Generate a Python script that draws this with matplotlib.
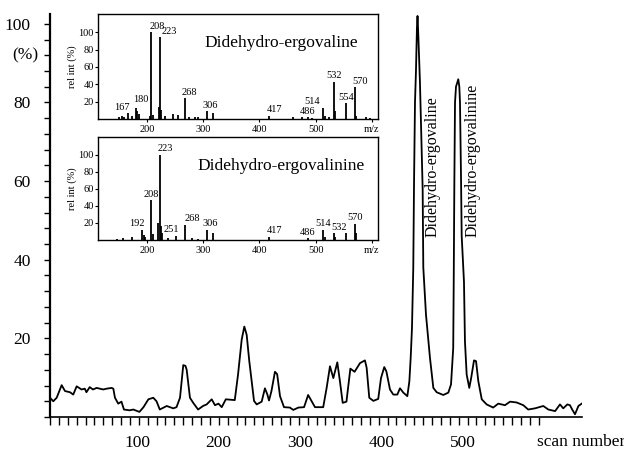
import numpy as np
import matplotlib
matplotlib.use("Agg")
import matplotlib.pyplot as plt

plt.rcParams['font.family'] = ['Liberation Serif', 'DejaVu Serif']

# ---- main chromatogram (scan number vs relative intensity, %) ----
scan = [-6.7, -2.7, 1.5, 7.6, 11.7, 17.8, 21.8, 26, 32, 36, 38, 42, 46, 50.5, 58.6,
        62.7, 69, 71, 73, 77, 81, 84, 91, 95.5, 103, 108, 114, 120, 124, 128,
        136.5, 144.5, 148.5, 152.8, 156.8, 159.5, 161, 165, 169, 175, 181, 185.5,
        191.7, 195.7, 200, 204, 209, 220, 224, 228.5, 231.7, 234.6, 237.8, 240.7,
        243.6, 246.9, 253, 257, 260, 262, 265, 269.3, 272, 275.5, 280.4, 287.6,
        291.8, 298, 305, 310, 314, 318.4, 328.5, 332.7, 336.8, 340.9, 345.8, 349,
        352.4, 357, 361.8, 367, 373.6, 379.7, 381.8, 385, 390, 396, 399.4, 403.4,
        406, 410.4, 414.5, 419.4, 422.7, 426.8, 431.7, 434.2, 435.8, 437.4, 439,
        439.9, 441.1, 442.3, 443.5, 444.2, 445.2, 447.2, 450.5, 451.3, 454.6,
        459.5, 463.6, 467.7, 475.8, 482, 485.3, 488, 488.6, 489.4, 490.2, 491.4,
        494.2, 495.5, 496.3, 497.5, 498.4, 501.2, 502.4, 504.5, 507.7, 510, 513.5,
        516, 518.8, 523, 529, 537, 543.3, 551.5, 557.7, 565.7, 574, 580, 588.3,
        598.5, 604.7, 613, 619, 623, 628, 631.2, 634, 637.4, 641.6, 645.7]
intensity = [4.9, 4.0, 4.9, 8.1, 6.6, 6.3, 5.7, 7.8, 7.0, 7.2, 6.3, 7.6, 7.0, 7.4, 7.0,
             7.2, 7.4, 7.2, 4.9, 3.4, 3.9, 1.9, 1.7, 1.9, 1.3, 2.5, 4.5, 4.9, 4.0, 1.9,
             2.8, 2.2, 2.5, 4.9, 13.2, 13.0, 12.0, 4.9, 3.6, 1.9, 2.8, 3.2,
             4.5, 3.0, 3.4, 2.5, 4.5, 4.3, 10.8, 19.7, 23.0, 20.9, 14.2, 9.1,
             4.1, 3.2, 3.9, 7.3, 5.7, 4.2, 6.6, 11.5, 10.9, 5.3, 2.5, 2.4,
             1.8, 2.4, 2.5, 5.6, 4.1, 2.5, 2.5, 7.4, 12.9, 9.9, 13.9, 9.1,
             3.6, 3.9, 12.3, 11.5, 13.7, 14.4, 12.5, 4.9, 4.1, 4.6, 9.9, 12.7,
             11.6, 7.0, 5.7, 5.7, 7.3, 6.2, 5.3, 9.1, 15.0, 22.6, 38.0,
             59.0, 80.0, 88.0, 99.0, 102.0, 97.0, 85.0, 58.0, 38.0, 26.0,
             15.0, 7.4, 6.3, 5.6, 6.2, 8.3, 17.5, 34.0, 60.0, 80.0, 84.0,
             85.9, 84.0, 80.0, 62.0, 46.0, 34.4, 19.2, 10.8, 7.4, 9.9, 14.4,
             14.2, 9.1, 4.5, 3.2, 2.4, 3.4, 3.0, 3.9, 3.7, 3.0, 1.9, 2.2,
             2.8, 1.9, 1.5, 3.2, 2.2, 3.2, 3.0, 1.9, 0.7, 2.8, 3.4]

scan_ticks = [100, 200, 300, 400, 500]
int_ticks = [20, 40, 60, 80, 100]

# peak names in the chromatogram
peak_names = ['Didehydro-ergovaline', 'Didehydro-ergovalinine']
peak_name_pos = [(463, 45.8), (512, 45.8)]

# ---- mass spectra (m/z, rel int %) ----
mz1 = [113, 150, 155, 160, 167, 173, 180, 183, 186, 205, 208, 210, 221, 223, 225,
       232, 246, 255, 268, 275, 285, 290, 306, 318, 417, 460, 475, 486, 493, 514,
       516, 523, 532, 534, 554, 570, 572, 590, 597]
ri1 = [30, 2, 3, 2, 7, 4, 13, 9, 6, 4, 100, 5, 14, 94, 10,
       3, 6, 5, 24, 2, 2, 2, 9, 7, 4, 2, 2, 2, 1, 13,
       3, 2, 43, 9, 18, 37, 4, 2, 1]
lab1 = [167, 180, 208, 223, 268, 306, 417, 486, 514, 532, 554, 570]
lab1_dx = [-5, 4, 4, 7, 3, 3, 4, 0, -8, 0, 0, 4]
lab1_dy = [1, 3, 1, 1, 1, 1, 1, 1, 1, 1, 1, 1]

mz2 = [146, 158, 173, 192, 194, 197, 208, 210, 220, 223, 225, 227, 237, 251,
       268, 280, 290, 306, 318, 417, 486, 514, 516, 532, 534, 554, 570, 572]
ri2 = [1, 2, 4, 12, 6, 3, 47, 7, 20, 100, 17, 8, 2, 5,
       18, 2, 1, 12, 8, 4, 2, 12, 3, 8, 3, 8, 19, 8]
lab2 = [192, 208, 223, 251, 268, 306, 417, 486, 514, 532, 570]
lab2_dx = [-4, 0, 4, -3, 5, 3, 4, 0, 0, 4, 0]
lab2_dy = [1, 1, 1, 1, 1, 1, 1, 1, 1, 1, 1]

mz_ticks = [200, 300, 400, 500, 600]
mz_ticklabels = ['200', '300', '400', '500', 'm/z']
ri_ticks = [20, 40, 60, 80, 100]

fig = plt.figure(figsize=(6.24, 4.51), dpi=100)

ax = fig.add_axes([50/624, 1-417/451, 532/624, 403/451])
ax.plot(scan, intensity, color='black', lw=1.3)
ax.set_xlim(-6.7, 646)
ax.set_ylim(0, 102.5)
for s in ['top', 'right']:
    ax.spines[s].set_visible(False)
ax.spines['left'].set_linewidth(1.6)
ax.spines['bottom'].set_linewidth(1.2)

ax.set_xticks(scan_ticks)
ax.set_xticklabels([str(t) for t in scan_ticks])
ax.set_xticks(np.arange(-6.7, 595, 10.9), minor=True)
ax.tick_params(axis='x', which='major', length=0, pad=13, labelsize=12.5)
ax.tick_params(axis='x', which='minor', length=6, width=1, direction='out')
ax.set_yticks(int_ticks)
ax.set_yticks(np.arange(0, 101, 4), minor=True)
ax.tick_params(axis='y', which='both', length=4, width=1, direction='out')
ax.tick_params(axis='y', which='major', pad=10, labelsize=12.5)

fig.text(25/624, 1-55/451, '(%)', ha='center', va='center', fontsize=12.5)
fig.text(537/624, 1-442/451, 'scan number', ha='left', va='center', fontsize=12.5)

for name, (xs, ys) in zip(peak_names, peak_name_pos):
    ax.text(xs, ys, name, rotation=90, ha='center', va='bottom', fontsize=11.5)


def spectrum(rect, mz, ri, labels, dxs, dys, title):
    a = fig.add_axes(rect)
    a.vlines(mz, 0, ri, color='black', lw=1.3)
    a.set_xlim(113, 611)
    a.set_ylim(0, 121)
    for s in a.spines.values():
        s.set_linewidth(1.0)
    a.set_xticks(mz_ticks)
    a.set_xticklabels(mz_ticklabels)
    a.set_yticks(ri_ticks)
    a.tick_params(axis='both', length=2.5, width=0.8, labelsize=7.5, pad=1.5)
    a.tick_params(axis='y', pad=0.5)
    a.set_ylabel('rel int (%)', fontsize=7.5, labelpad=1)
    for m, dx, dy in zip(labels, dxs, dys):
        h = ri[mz.index(m)]
        a.annotate(str(m), (m, h), xytext=(dx, dy), textcoords='offset points',
                   ha='center', va='bottom', fontsize=7.5)
    a.text(0.655, 0.72, title, transform=a.transAxes, ha='center', va='center',
           fontsize=12.5)
    return a


spectrum([98/624, 1-119/451, 280/624, 105/451], mz1, ri1, lab1, lab1_dx, lab1_dy,
         'Didehydro-ergovaline')
spectrum([98/624, 1-240/451, 280/624, 103/451], mz2, ri2, lab2, lab2_dx, lab2_dy,
         'Didehydro-ergovalinine')

fig.savefig('out.png', dpi=100)
